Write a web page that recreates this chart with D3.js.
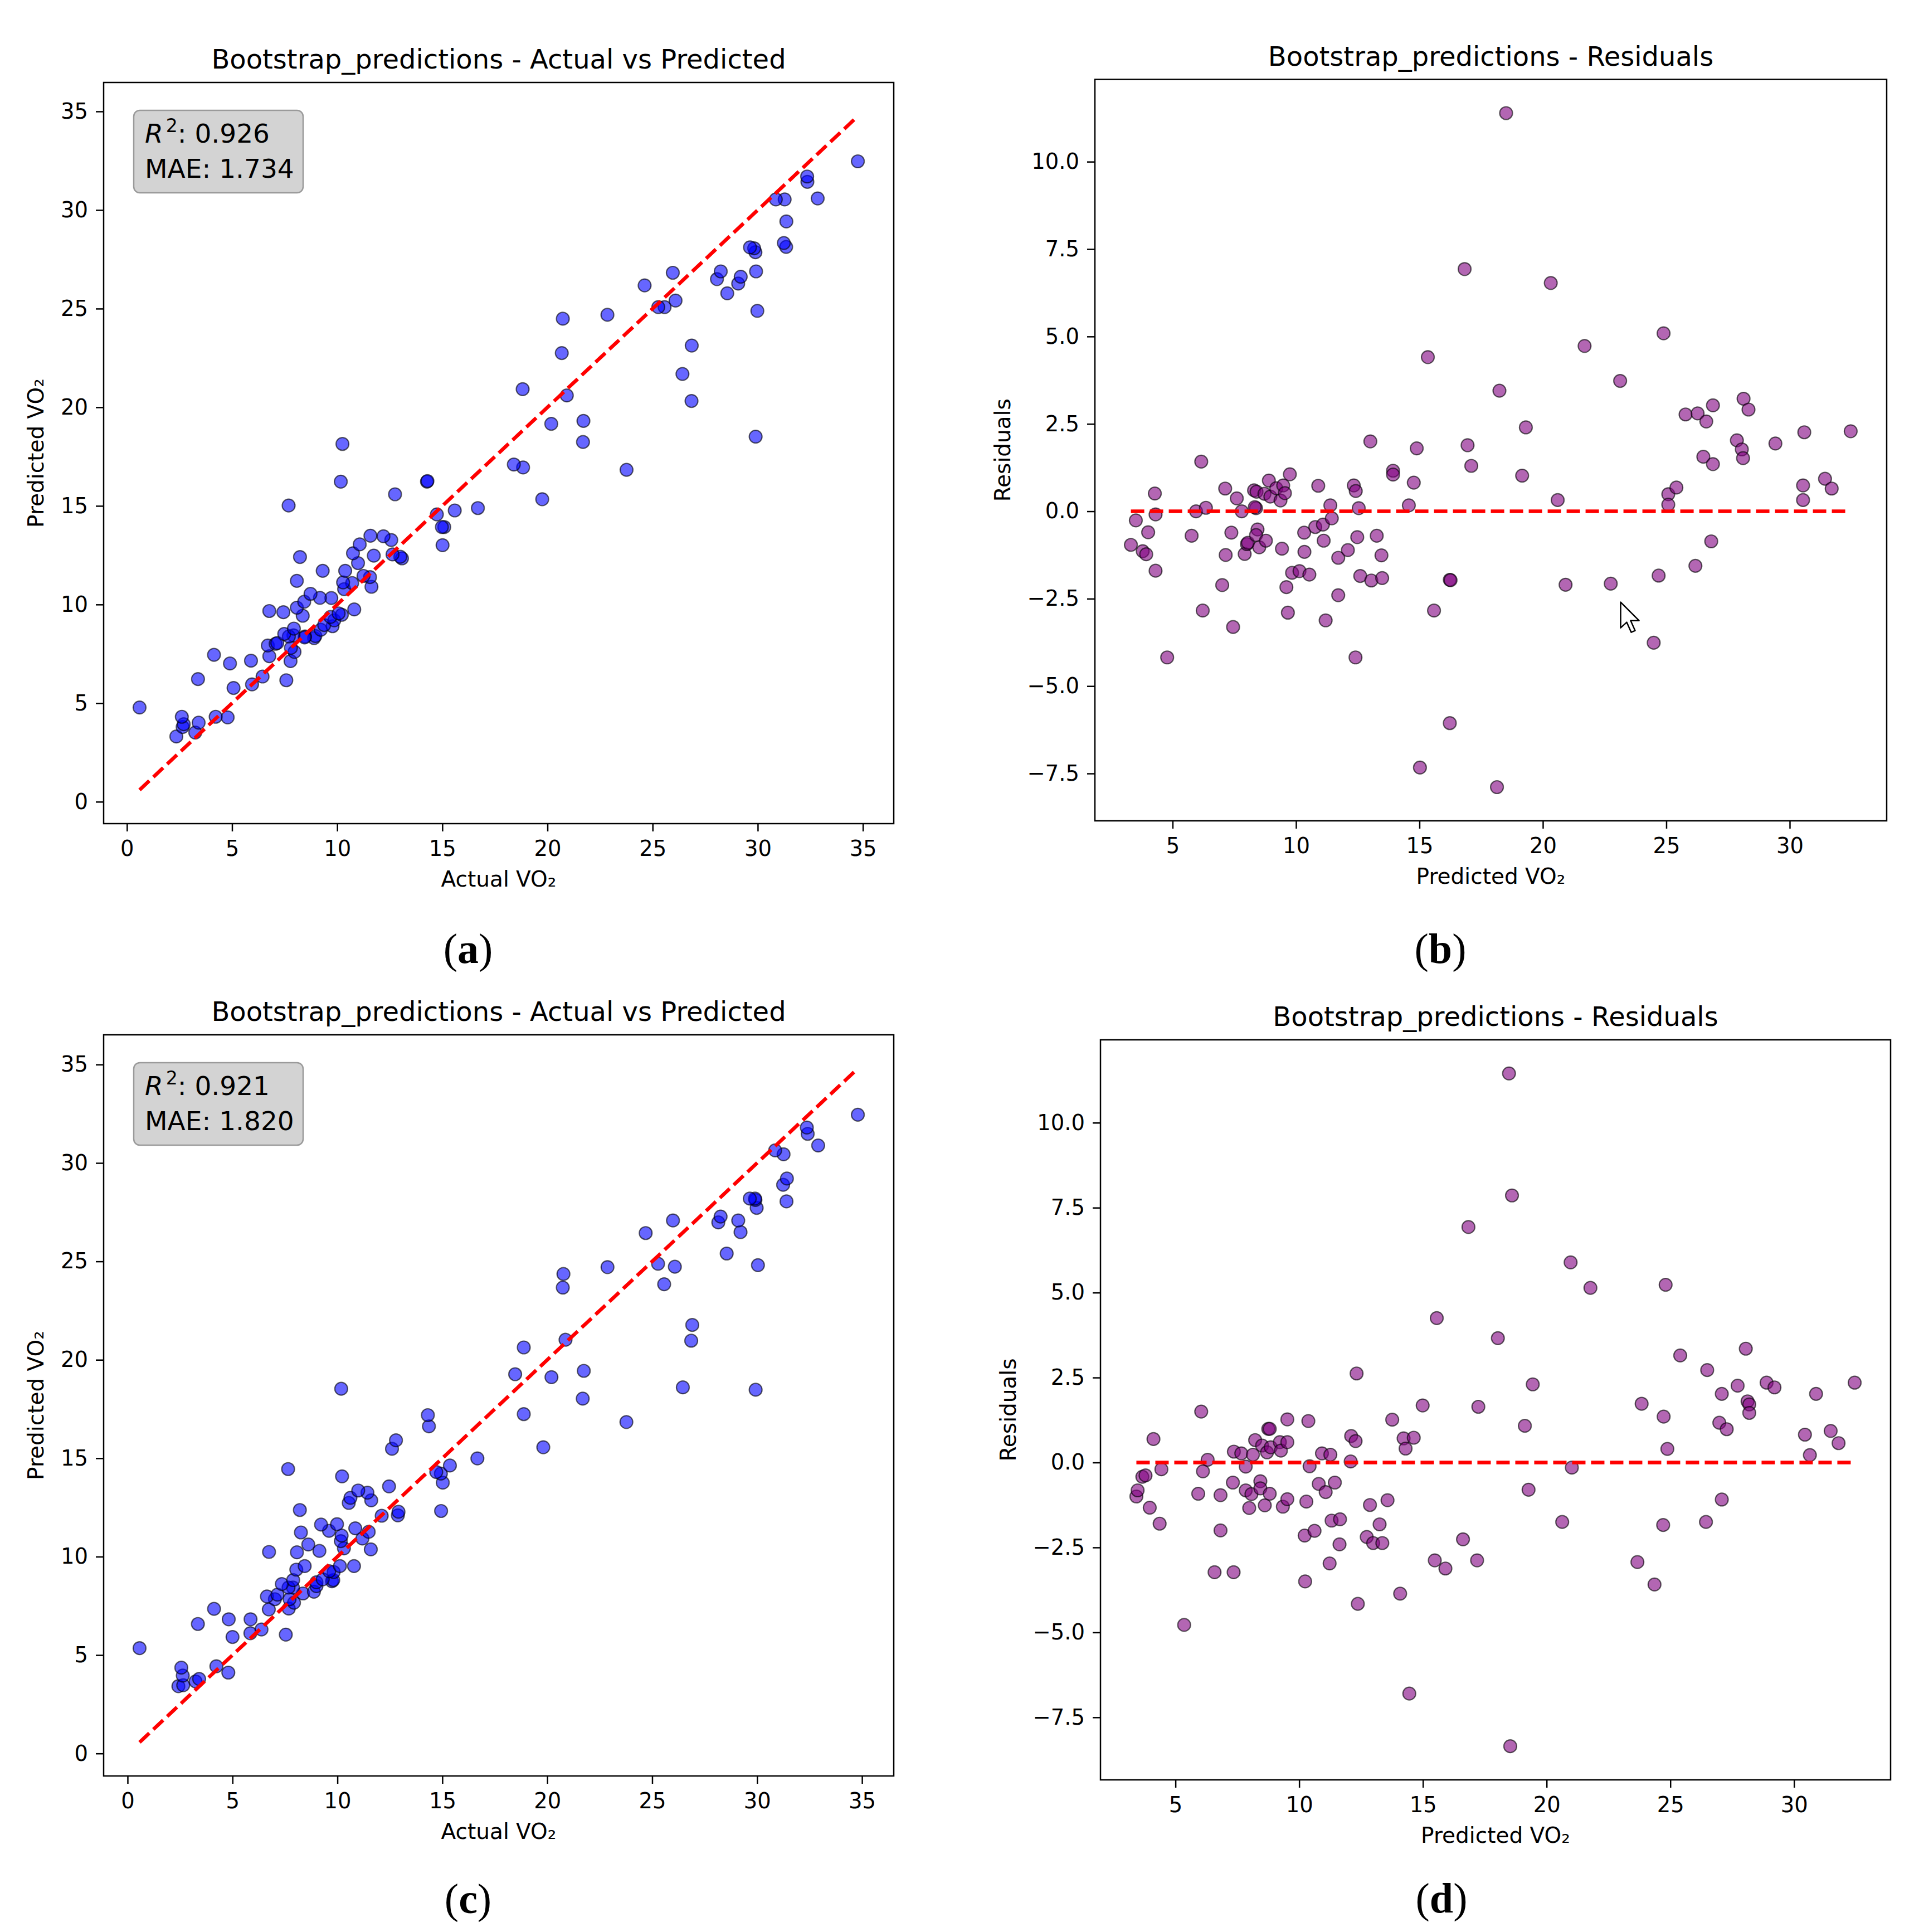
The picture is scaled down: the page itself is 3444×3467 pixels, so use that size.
<!DOCTYPE html>
<html><head><meta charset="utf-8">
<script src="https://cdn.jsdelivr.net/npm/d3@7"></script>
<style>html,body{margin:0;padding:0;background:#fff}</style>
</head><body>
<svg id="fig" width="3444" height="3467" xmlns="http://www.w3.org/2000/svg"></svg>
<script>
// ---------- DATA ----------
// Model A (panels a, b)
const predictedA = [
3.31,3.51,3.79,3.93,4.01,4.28,4.31,4.31,4.78,5.77,
5.95,6.16,6.22,6.35,7.01,7.13,7.15,7.38,7.45,7.60,
7.80,7.92,8.01,8.05,8.30,8.40,8.38,8.33,8.44,8.38,
8.51,8.72,8.78,8.90,8.96,9.20,9.37,9.43,9.48,9.55,
9.61,9.67,9.75,9.84,10.14,10.33,10.34,10.54,10.78,10.90,
11.09,11.12,11.20,11.39,11.45,11.71,11.71,12.10,12.34,12.42,
12.41,12.48,12.54,12.60,13.01,13.05,13.27,13.46,13.49,13.93,
13.93,14.57,14.77,14.89,15.02,15.34,15.59,16.23,16.26,16.23,
16.83,16.95,17.10,18.14,18.24,18.51,19.16,19.31,20.32,20.60,
20.92,21.69,22.75,23.13,24.49,24.69,24.89,25.08,25.08,25.41,
25.78,26.18,26.27,26.50,26.62,26.82,26.89,26.89,27.86,28.06,
28.11,28.13,28.33,29.42,30.54,30.54,30.59,31.43,31.70,32.47];
const residualA = [
-0.96,-0.26,-1.14,-1.23,-0.60,0.51,-0.09,-1.70,-4.18,-0.70,
0.00,1.42,-2.84,0.10,-2.11,0.65,-1.25,-0.61,-3.31,0.37,
0.00,-1.22,-0.94,-0.90,0.60,0.56,0.09,0.12,-0.52,-0.68,
-1.03,0.50,-0.84,0.88,0.42,0.66,0.31,-1.07,0.74,0.52,
-2.17,-2.90,1.06,-1.76,-1.71,-0.61,-1.16,-1.81,-0.45,0.73,
-0.38,-0.84,-3.12,0.17,-0.20,-1.33,-2.40,-1.11,0.74,0.58,
-4.18,-0.74,0.09,-1.85,2.00,-1.98,-0.70,-1.26,-1.91,1.16,
1.05,0.17,0.82,1.80,-7.33,4.41,-2.84,-1.96,-1.97,-6.06,
6.93,1.89,1.30,-7.89,3.45,11.39,1.02,2.40,6.53,0.32,
-2.10,4.73,-2.07,3.73,-3.76,-1.84,5.09,0.49,0.19,0.68,
2.77,-1.56,2.80,1.56,2.57,-0.86,3.03,1.35,2.03,1.77,
1.52,3.22,2.91,1.94,0.74,0.32,2.26,0.93,0.65,2.29];
const actualA = [
2.35,3.25,2.65,2.70,3.41,4.79,4.22,2.61,0.60,5.07,
5.95,7.58,3.38,6.45,4.90,7.78,5.90,6.77,4.14,7.97,
7.80,6.70,7.07,7.15,8.90,8.96,8.47,8.45,7.92,7.70,
7.48,9.22,7.94,9.78,9.38,9.86,9.68,8.36,10.22,10.07,
7.44,6.77,10.81,8.08,8.43,9.72,9.18,8.73,10.33,11.63,
10.71,10.28,8.08,11.56,11.25,10.38,9.31,10.99,13.08,13.00,
8.23,11.74,12.63,10.75,15.01,11.07,12.57,12.20,11.58,15.09,
14.98,14.74,15.59,16.69,7.69,19.75,12.75,14.27,14.29,10.17,
23.76,18.84,18.40,10.25,21.69,29.90,20.18,21.71,26.85,20.92,
18.82,26.42,20.68,26.86,20.73,22.85,29.98,25.57,25.27,26.09,
28.55,24.62,29.07,28.06,29.19,25.96,29.92,28.24,29.89,29.83,
29.63,31.35,31.24,31.36,31.28,30.86,32.85,32.36,32.35,34.76];

// Model C (panels c, d)
const predictedC = [
3.42,3.47,3.66,3.79,3.96,4.11,4.36,4.43,5.35,5.92,
6.04,6.11,6.30,6.58,6.82,6.82,7.32,7.35,7.36,7.66,
7.84,7.84,7.98,8.07,8.13,8.22,8.43,8.43,8.50,8.61,
8.70,8.75,8.81,8.81,8.85,9.22,9.26,9.34,9.52,9.52,
9.52,10.22,10.24,10.29,10.37,10.42,10.62,10.79,10.92,11.07,
11.23,11.26,11.31,11.44,11.63,11.65,12.08,12.10,12.28,12.32,
12.37,12.73,12.86,12.99,13.25,13.36,13.57,13.76,14.08,14.22,
14.30,14.45,14.63,14.99,15.48,15.56,15.91,16.62,16.84,17.19,
17.24,18.03,18.48,18.53,18.60,19.12,19.27,19.44,20.63,20.97,
21.02,21.77,23.67,23.84,24.36,24.71,24.73,24.81,24.88,25.40,
26.44,26.49,26.98,27.08,27.08,27.28,27.72,28.05,28.12,28.19,
28.19,28.89,29.21,30.44,30.64,30.89,31.48,31.80,32.45];
const residualC = [
-1.00,-0.82,-0.42,-0.38,-1.33,0.69,-1.80,-0.20,-4.78,-0.92,
1.50,-0.26,0.08,-3.23,-0.96,-2.00,-0.59,-3.23,0.32,0.27,
-0.12,-0.82,-1.34,-0.93,0.23,0.66,-0.55,-0.76,0.50,-1.26,
0.30,0.99,0.99,-0.92,0.45,0.60,0.35,-1.30,1.27,0.60,
-1.08,-2.15,-3.50,-1.15,1.22,-0.11,-2.01,-0.63,0.27,-0.87,
-2.97,0.23,-1.71,-0.59,-2.41,-1.67,0.03,0.78,0.63,2.62,
-4.16,-2.19,-1.25,-2.37,-1.82,-2.37,-1.11,1.26,-3.86,0.71,
0.41,-6.80,0.73,1.68,-2.88,4.25,-3.12,-2.26,6.93,-2.88,
1.64,3.66,11.45,-8.35,7.86,1.08,-0.80,2.30,-1.75,5.89,
-0.15,5.14,-2.93,1.73,-3.59,-1.84,1.35,5.23,0.40,3.15,
-1.75,2.72,1.17,2.02,-1.09,0.98,2.26,3.35,1.80,1.71,
1.46,2.35,2.21,0.82,0.22,2.02,0.93,0.57,2.35];
const actualC = [
2.42,2.65,3.24,3.41,2.63,4.80,2.56,4.23,0.57,5.00,
7.54,5.85,6.38,3.35,5.86,4.82,6.73,4.12,7.68,7.93,
7.72,7.02,6.64,7.14,8.36,8.88,7.88,7.67,9.00,7.35,
9.00,9.74,9.80,7.89,9.30,9.82,9.61,8.04,10.79,10.12,
8.44,8.07,6.74,9.14,11.59,10.31,8.61,10.16,11.19,10.20,
8.26,11.49,9.60,10.85,9.22,9.98,12.11,12.88,12.91,14.94,
8.21,10.54,11.61,10.62,11.43,10.99,12.46,15.02,10.22,14.93,
14.71,7.65,15.36,16.67,12.60,19.81,12.79,14.36,23.77,14.31,
18.88,21.69,29.93,10.18,26.46,20.20,18.47,21.74,18.88,26.86,
20.87,26.91,20.74,25.57,20.77,22.87,26.08,30.04,25.28,28.55,
24.69,29.21,28.15,29.10,25.99,28.26,29.98,31.40,29.92,29.90,
29.65,31.24,31.42,31.26,30.86,32.91,32.41,32.37,34.80];

const r2Values  = ["0.926", "0.921"];
const maeValues = ["1.734", "1.820"];
const avpTicks  = [0, 5, 10, 15, 20, 25, 30, 35];
const resXTicks = [5, 10, 15, 20, 25, 30];
const resYTicks = [-7.5, -5.0, -2.5, 0.0, 2.5, 5.0, 7.5, 10.0];
const panelLetters = ["a", "b", "c", "d"];
const cursorAt = [23.15, -2.60]; // mouse pointer visible in panel (b), data coords

// ---------- DRAWING ----------
const FONT = "DejaVu Sans, Verdana, sans-serif";
const svg = d3.select("#fig");
svg.append("rect").attr("width", 3444).attr("height", 3467).attr("fill", "#fff");

function padExt(arr) {
  const [lo, hi] = d3.extent(arr);
  const m = (hi - lo) * 0.05;
  return [lo - m, hi + m];
}

function axesFrame(box, xDom, yDom, xTicks, yTicks, xFmt, yFmt, title, xlabel, ylabel, ylabelOff) {
  const [L, T, R, B] = box;
  const x = d3.scaleLinear().domain(xDom).range([L, R]);
  const y = d3.scaleLinear().domain(yDom).range([B, T]);
  const g = svg.append("g");
  const gx = g.append("g").attr("transform", `translate(0,${B})`)
    .call(d3.axisBottom(x).tickValues(xTicks).tickSize(14).tickPadding(17).tickFormat(xFmt));
  const gy = g.append("g").attr("transform", `translate(${L},0)`)
    .call(d3.axisLeft(y).tickValues(yTicks).tickSize(14).tickPadding(14).tickFormat(yFmt));
  [gx, gy].forEach(a => {
    a.select(".domain").remove();
    a.attr("font-family", FONT).attr("font-size", 38.5);
    a.selectAll("line").attr("stroke", "#000").attr("stroke-width", 2.5);
    a.selectAll("text").attr("fill", "#000");
  });
  g.append("text").attr("x", (L + R) / 2).attr("y", T - 25).attr("text-anchor", "middle")
    .attr("font-family", FONT).attr("font-size", 48).attr("fill", "#000").text(title);
  g.append("text").attr("x", (L + R) / 2).attr("y", B + 113).attr("text-anchor", "middle")
    .attr("font-family", FONT).attr("font-size", 39).attr("fill", "#000").text(xlabel);
  g.append("text").attr("transform", `translate(${L - ylabelOff},${(T + B) / 2}) rotate(-90)`)
    .attr("text-anchor", "middle").attr("font-family", FONT).attr("font-size", 39)
    .attr("fill", "#000").text(ylabel);
  return { x, y, g, box };
}

function finishFrame(p) {
  const [L, T, R, B] = p.box;
  p.g.append("rect").attr("x", L).attr("y", T).attr("width", R - L).attr("height", B - T)
    .attr("fill", "none").attr("stroke", "#000").attr("stroke-width", 2.5);
}

function dashed(p, x1, y1, x2, y2) {
  p.g.append("line")
    .attr("x1", p.x(x1)).attr("y1", p.y(y1)).attr("x2", p.x(x2)).attr("y2", p.y(y2))
    .attr("stroke", "#ff0000").attr("stroke-width", 6.5).attr("stroke-dasharray", "24 10");
}

function scatter(p, xs, ys, color) {
  p.g.append("g").selectAll("circle").data(xs.map((v, i) => [v, ys[i]])).join("circle")
    .attr("cx", d => p.x(d[0])).attr("cy", d => p.y(d[1])).attr("r", 11.5)
    .attr("fill", color).attr("fill-opacity", 0.6)
    .attr("stroke", "#000").attr("stroke-opacity", 0.6).attr("stroke-width", 2.2);
}

function avpPanel(box, actual, predicted, r2, mae) {
  const ext = padExt(actual.concat(predicted));
  const p = axesFrame(box, ext, ext, avpTicks, avpTicks, d3.format("d"), d3.format("d"),
    "Bootstrap_predictions - Actual vs Predicted", "Actual VO\u2082", "Predicted VO\u2082", 108);
  scatter(p, actual, predicted, "blue");
  const [amin, amax] = d3.extent(actual);
  dashed(p, amin, amin, amax, amax);
  const [L, T] = box;
  const tb = p.g.append("g").attr("transform", `translate(${L + 54},${T + 50})`);
  tb.append("rect").attr("x", 0).attr("y", 0).attr("width", 304).attr("height", 148)
    .attr("rx", 11).attr("fill", "#d3d3d3").attr("stroke", "#9a9a9a").attr("stroke-width", 2.5);
  const t1 = tb.append("text").attr("x", 20).attr("y", 58)
    .attr("font-family", FONT).attr("font-size", 47).attr("fill", "#000");
  t1.append("tspan").attr("font-style", "italic").text("R");
  t1.append("tspan").attr("font-size", 33).attr("dx", 5).attr("dy", -19).text("2");
  t1.append("tspan").attr("dy", 19).text(": " + r2);
  tb.append("text").attr("x", 20).attr("y", 121)
    .attr("font-family", FONT).attr("font-size", 47).attr("fill", "#000").text("MAE: " + mae);
  finishFrame(p);
  return p;
}

function resPanel(box, predicted, residual) {
  const xe = padExt(predicted);
  const ye = padExt(residual.concat([0]));
  const p = axesFrame(box, xe, ye, resXTicks, resYTicks, d3.format("d"), d3.format(".1f"),
    "Bootstrap_predictions - Residuals", "Predicted VO\u2082", "Residuals", 152);
  scatter(p, predicted, residual, "purple");
  const [pmin, pmax] = d3.extent(predicted);
  dashed(p, pmin, 0, pmax, 0);
  finishFrame(p);
  return p;
}

avpPanel([186, 148, 1604, 1478], actualA, predictedA, r2Values[0], maeValues[0]);
const pb = resPanel([1965, 142.5, 3386, 1473], predictedA, residualA);
avpPanel([186, 1857, 1604, 3187], actualC, predictedC, r2Values[1], maeValues[1]);
resPanel([1975, 1866, 3393, 3194], predictedC, residualC);

// mouse pointer captured in panel (b)
{
  const cx = pb.x(cursorAt[0]), cy = pb.y(cursorAt[1]);
  pb.g.append("path")
    .attr("d", "M0,0 L0,46 L11,36 L19,54 L26,51 L18,33 L33,33 Z")
    .attr("transform", `translate(${cx},${cy})`)
    .attr("fill", "#fff").attr("stroke", "#000").attr("stroke-width", 2.5)
    .attr("stroke-linejoin", "round");
}

// sub-figure letters
const letterPos = [[840, 1728], [2585, 1728], [840, 3433], [2587, 3432]];
panelLetters.forEach((l, i) => {
  const t = svg.append("text").attr("x", letterPos[i][0]).attr("y", letterPos[i][1])
    .attr("text-anchor", "middle").attr("font-family", "Liberation Serif, DejaVu Serif, serif")
    .attr("font-size", 76).attr("fill", "#000");
  t.append("tspan").text("(");
  t.append("tspan").attr("font-weight", "bold").text(l);
  t.append("tspan").text(")");
});
</script>
</body></html>
